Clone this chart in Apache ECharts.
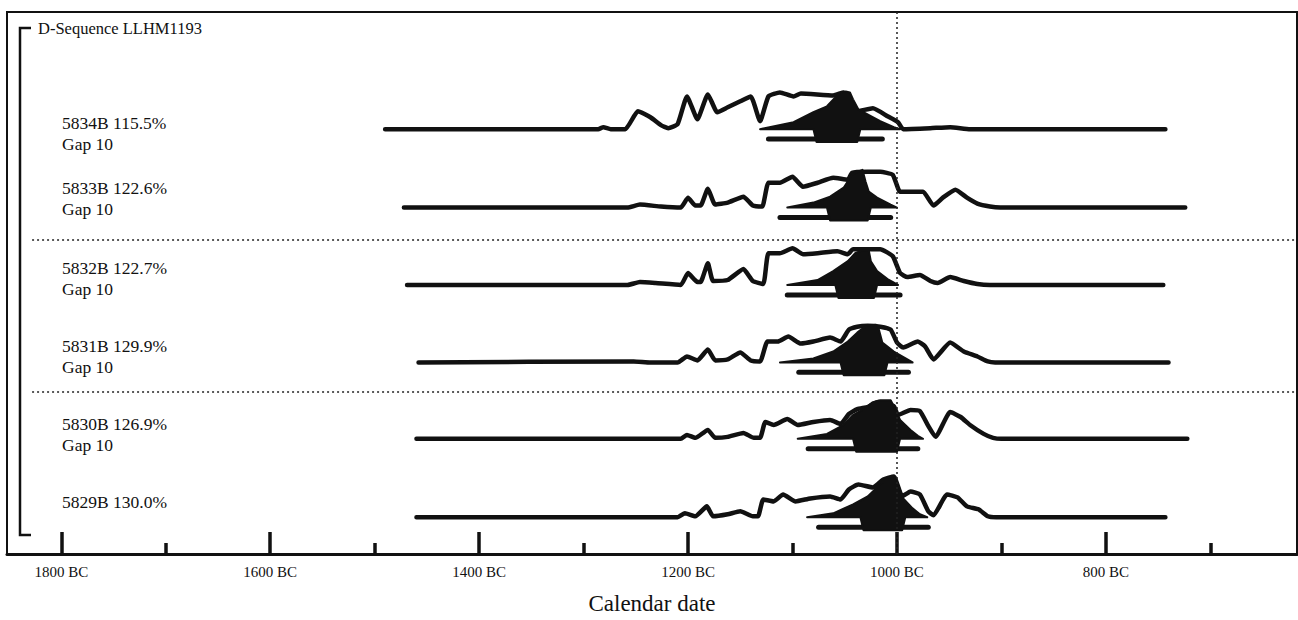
<!DOCTYPE html>
<html><head><meta charset="utf-8">
<script src="https://cdn.jsdelivr.net/npm/echarts@6/dist/echarts.min.js"></script>
<style>html,body{margin:0;padding:0;background:#fff}#c{width:1298px;height:620px}</style>
</head><body><div id="c"></div>
<script>
// ---- data (years BC, heights in relative density units) ----
const sequenceTitle = 'D-Sequence LLHM1193';
const sampleLabels = ['5834B 115.5%', '5833B 122.6%', '5832B 122.7%', '5831B 129.9%', '5830B 126.9%', '5829B 130.0%'];
const gapLabels = ['Gap 10', 'Gap 10', 'Gap 10', 'Gap 10', 'Gap 10', ''];
const majorTicks = [1800, 1600, 1400, 1200, 1000, 800];
const minorTicks = [1700, 1500, 1300, 1100, 900, 700];
const axisTitle = 'Calendar date';

const outline5834 = [[1490,0],[1286,0],[1281,2],[1274,0],[1260,0],[1248,18],[1236,12],[1226,4],[1219,1],[1210,5],[1201,33],[1191,10],[1181,35],[1172,17],[1162,22],[1150,28],[1140,33],[1131,8],[1123,33],[1112,37],[1099,33],[1092,36],[1061,34],[1051,37],[1038,18],[1023,21],[1009,13],[999,7],[994,0],[968,1],[949,2],[930,0],[743,0]];
const filled5834 = [[1131,0],[1099,7],[1080,17],[1067,23],[1059,32],[1054,37],[1049,38],[1045,37],[1042,30],[1037,20],[1025,13],[1016,8],[1003,2],[997,0]];
const range5834 = [1123, 1014];
const core5834 = [1080, 1035];

const outline5833 = [[1472,0],[1258,0],[1246,3],[1226,1],[1207,0],[1200,10],[1193,2],[1188,2],[1181,19],[1174,3],[1162,5],[1147,11],[1138,2],[1129,1],[1123,25],[1112,25],[1100,31],[1090,21],[1076,25],[1061,30],[1047,28],[1043,35],[1028,36],[1016,36],[1004,33],[997,16],[984,16],[975,16],[965,2],[956,10],[944,18],[933,10],[923,4],[911,1],[901,0],[724,0]];
const filled5833 = [[1105,0],[1080,5],[1064,11],[1051,20],[1043,33],[1038,36],[1033,38],[1030,26],[1027,16],[1019,10],[1006,3],[1000,0]];
const range5833 = [1112, 1006];
const core5833 = [1067, 1025];

const outline5832 = [[1469,0],[1258,0],[1246,3],[1231,2],[1207,0],[1200,12],[1191,3],[1188,3],[1181,22],[1176,4],[1162,5],[1147,16],[1138,4],[1128,1],[1123,32],[1112,32],[1100,37],[1090,31],[1076,32],[1057,34],[1047,31],[1042,36],[1028,36],[1016,36],[1004,29],[997,12],[990,8],[978,10],[968,4],[961,2],[949,8],[936,4],[923,1],[911,0],[745,0]];
const filled5832 = [[1105,0],[1076,5],[1061,14],[1047,24],[1040,32],[1033,35],[1027,35],[1025,24],[1019,14],[1009,6],[999,0]];
const range5832 = [1105, 997];
const core5832 = [1059, 1019];

const outline5831 = [[1458,0],[1252,1],[1236,0],[1210,0],[1201,6],[1191,2],[1181,13],[1174,2],[1162,3],[1150,10],[1140,2],[1131,1],[1124,21],[1114,21],[1104,26],[1092,19],[1080,21],[1064,25],[1054,21],[1046,33],[1038,36],[1028,37],[1016,36],[1006,33],[1000,20],[994,15],[980,21],[973,16],[965,3],[949,20],[936,11],[923,6],[913,1],[906,0],[740,0]];
const filled5831 = [[1112,0],[1080,4],[1061,11],[1047,21],[1038,30],[1033,34],[1028,37],[1020,38],[1018,36],[1014,20],[1003,11],[990,3],[985,0]];
const range5831 = [1094, 989];
const core5831 = [1054, 1009];

const outline5830 = [[1460,0],[1207,0],[1201,4],[1193,1],[1181,9],[1174,1],[1162,2],[1147,6],[1137,1],[1131,1],[1126,17],[1118,14],[1105,20],[1095,14],[1080,17],[1064,19],[1054,15],[1046,25],[1038,30],[1028,32],[1018,37],[1003,33],[999,24],[987,29],[978,28],[970,13],[963,2],[949,27],[939,22],[930,14],[917,5],[908,1],[900,0],[722,0]];
const filled5830 = [[1095,0],[1067,5],[1051,14],[1042,24],[1032,30],[1023,37],[1016,39],[1006,39],[1003,33],[997,19],[987,9],[980,3],[975,0]];
const range5830 = [1085, 980];
const core5830 = [1042, 997];

const outline5829 = [[1460,0],[1210,0],[1203,4],[1193,1],[1182,11],[1176,1],[1162,3],[1150,6],[1138,1],[1133,1],[1128,18],[1118,16],[1109,23],[1097,16],[1083,19],[1064,21],[1054,18],[1046,28],[1037,33],[1023,30],[1013,38],[1003,41],[995,21],[987,26],[978,23],[970,6],[965,2],[952,23],[942,20],[933,11],[922,8],[913,1],[905,0],[743,0]];
const filled5829 = [[1086,0],[1061,4],[1042,13],[1028,21],[1016,33],[1009,40],[1003,41],[999,33],[994,19],[985,9],[978,3],[971,0]];
const range5829 = [1075, 970];
const core5829 = [1035, 992];

// ---- layout ----
const outlines = [outline5834, outline5833, outline5832, outline5831, outline5830, outline5829];
const filleds = [filled5834, filled5833, filled5832, filled5831, filled5830, filled5829];
const ranges = [range5834, range5833, range5832, range5831, range5830, range5829];
const cores = [core5834, core5833, core5832, core5831, core5830, core5829];
const rowBase = [428, 349, 271, 193, 116, 37];
const labelTop = [123, 188, 268, 346, 424, 502];
const SERIF = '"Liberation Serif", "DejaVu Serif", serif';
const INK = '#111';

const series = [];
rowBase.forEach((base, i) => {
  const fill = filleds[i], core = cores[i];
  series.push({
    type: 'custom', silent: true, z: 3,
    data: [[(core[0] + core[1]) / 2, base]],
    renderItem: (params, api) => {
      const pts = fill.map(p => api.coord([p[0], base + p[1]]));
      pts.push(api.coord([core[1], base]));
      pts.push(api.coord([core[1] + 3, base - 13]));
      pts.push(api.coord([core[0] - 3, base - 13]));
      pts.push(api.coord([core[0], base]));
      return { type: 'polygon', shape: { points: pts }, style: { fill: INK, stroke: INK, lineWidth: 2, lineJoin: 'round' } };
    }
  });
  series.push({
    type: 'line', z: 2, silent: true, showSymbol: false, symbol: 'none', smooth: 0.15,
    data: outlines[i].map(p => [p[0], base + p[1]]),
    lineStyle: { color: INK, width: 4.5, join: 'round', cap: 'round' }
  });
  series.push({
    type: 'line', z: 2, silent: true, showSymbol: false, symbol: 'none',
    data: [[ranges[i][0], base - 10], [ranges[i][1], base - 10]],
    lineStyle: { color: INK, width: 5, cap: 'round' }
  });
});
series[1].markLine = {
  silent: true, symbol: 'none', label: { show: false },
  lineStyle: { color: '#222', width: 1.5, type: [2, 3] },
  data: [{ xAxis: 1000 }]
};
// horizontal dotted separators (start right of the bracket)
series[4].markLine = {
  silent: true, symbol: 'none', label: { show: false },
  lineStyle: { color: '#222', width: 1.5, type: [2, 3] },
  data: [
    [{ coord: [1828, rowBase[2] + 46] }, { coord: [617, rowBase[2] + 46] }],
    [{ coord: [1828, rowBase[4] + 47] }, { coord: [617, rowBase[4] + 47] }]
  ]
};

const graphics = [
  { type: 'polyline', shape: { points: [[31, 28], [20, 28], [20, 535], [31, 535]] }, style: { stroke: INK, lineWidth: 2.5, fill: null } },
  { type: 'text', x: 38, y: 28, style: { text: sequenceTitle, font: '16.5px ' + SERIF, fill: INK, verticalAlign: 'middle' } }
];
sampleLabels.forEach((t, i) => {
  graphics.push({ type: 'text', x: 62, y: labelTop[i], style: { text: t, font: '17.5px ' + SERIF, fill: INK, verticalAlign: 'middle' } });
  if (gapLabels[i]) graphics.push({ type: 'text', x: 62, y: labelTop[i] + 21, style: { text: gapLabels[i], font: '17.5px ' + SERIF, fill: INK, verticalAlign: 'middle' } });
});

const chart = echarts.init(document.getElementById('c'), null, { renderer: 'svg' });
chart.setOption({
  animation: false,
  backgroundColor: '#fff',
  grid: { left: 7, top: 12, right: 1, bottom: 62, show: true, borderColor: INK, borderWidth: 2 },
  xAxis: [{
    type: 'value', min: 617, max: 1852, inverse: true, position: 'bottom',
    name: axisTitle, nameLocation: 'middle', nameGap: 38,
    nameTextStyle: { fontFamily: SERIF, fontSize: 23, color: INK },
    axisLine: { show: true, onZero: false, lineStyle: { color: INK, width: 3 } },
    axisTick: { show: true, inside: true, length: 22, customValues: majorTicks, lineStyle: { color: INK, width: 3.5 } },
    axisLabel: { show: true, customValues: majorTicks, formatter: v => v + ' BC', fontFamily: SERIF, fontSize: 15, color: INK, margin: 10 },
    splitLine: { show: false }
  }, {
    type: 'value', min: 617, max: 1852, inverse: true, position: 'bottom',
    axisLine: { show: false },
    axisTick: { show: true, inside: true, length: 11, customValues: minorTicks, lineStyle: { color: INK, width: 3.5 } },
    axisLabel: { show: false },
    splitLine: { show: false }
  }],
  yAxis: { type: 'value', min: 0, max: 546, show: false, splitLine: { show: false } },
  graphic: graphics,
  series: series
});
</script></body></html>
